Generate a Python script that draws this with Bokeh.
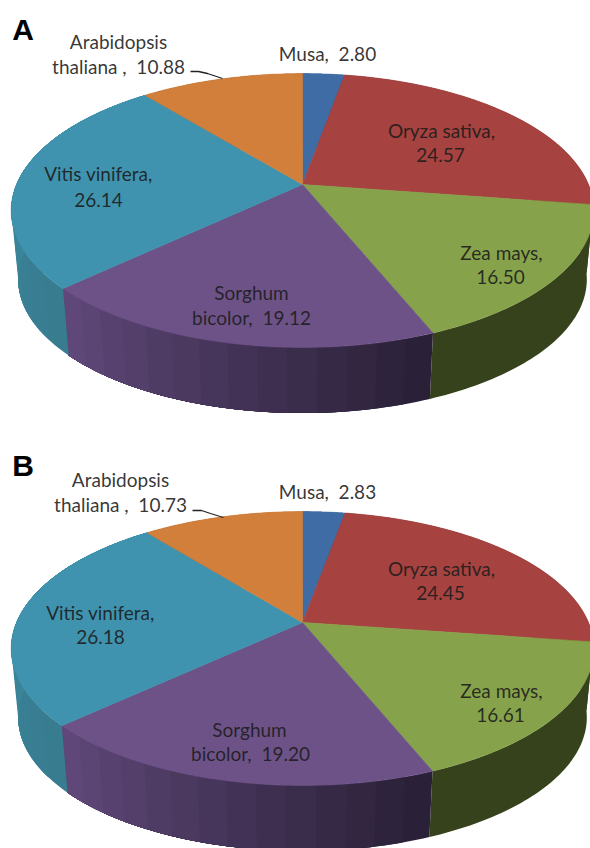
import numpy as np
from bokeh.plotting import figure
from bokeh.models import Range1d
from bokeh.core.properties import value
from bokeh.embed import file_html
from bokeh.resources import INLINE

# ---- data ----
species = ["Musa", "Oryza sativa", "Zea mays", "Sorghum bicolor", "Vitis vinifera", "Arabidopsis thaliana"]
values_a = [2.80, 24.57, 16.50, 19.12, 26.14, 10.88]
values_b = [2.83, 24.45, 16.61, 19.20, 26.18, 10.73]

# ---- styles ----
top_colors = ["#3F6CA4", "#A6423F", "#86A34B", "#6D5288", "#3F93AE", "#D27F3B"]
side_start = ["#2C4A70", "#6B2B29", "#36421B", "#2A2037", "#377C8F", "#8E5527"]
side_end = ["#2C4A70", "#6B2B29", "#36421B", "#5F4879", "#3F8FA9", "#8E5527"]

# ---- layout (reference pixels) ----
CX, R, B, K = 302.0, 286.0, 132.0, 0.19
DEPTH, SHRINK = 69.5, 0.976
APEX_A, APEX_B = 184.0, 622.0
TEXT = "#1c1c1c"
FONT = "Lato"
NB = "\u00a0"

labels_a = [
    ("Arabidopsis", 118, 41), (f"thaliana ,{NB} 10.88", 118, 66), (f"Musa,{NB} 2.80", 327, 53),
    ("Oryza sativa,", 441, 130), ("24.57", 440, 154), ("Zea mays,", 501, 252), ("16.50", 500, 276),
    ("Sorghum", 251, 292), (f"bicolor,{NB} 19.12", 251, 317), ("Vitis vinifera,", 98, 173), ("26.14", 98, 199),
]
labels_b = [
    ("Arabidopsis", 120, 479), (f"thaliana ,{NB} 10.73", 120, 504), (f"Musa,{NB} 2.83", 327, 491),
    ("Oryza sativa,", 441, 568), ("24.45", 440, 592), ("Zea mays,", 501, 690), ("16.61", 500, 714),
    ("Sorghum", 249, 729), (f"bicolor,{NB} 19.20", 250, 753), ("Vitis vinifera,", 100, 612), ("26.18", 100, 636),
]
panels = [("A", 22.5, 29), ("B", 22.5, 465)]
leaders = [([190, 198, 207, 222], [71, 71, 73, 78]), ([192, 201, 210, 223], [510, 510, 513, 517])]


def project(theta, apex, lower=False):
    u, v = np.sin(theta), np.cos(theta)
    d = 1 + K * v
    x, y = R * u / d, B * v / d
    if lower:
        return CX + SHRINK * x, apex + DEPTH - SHRINK * y
    return CX + x, apex - y


def mix(c1, c2, t):
    a = [int(c1[i:i + 2], 16) for i in (1, 3, 5)]
    b = [int(c2[i:i + 2], 16) for i in (1, 3, 5)]
    return "#%02x%02x%02x" % tuple(int(round(p + (q - p) * t)) for p, q in zip(a, b))


p = figure(width=590, height=848, x_range=Range1d(0, 590), y_range=Range1d(848, 0),
           output_backend="svg", toolbar_location=None, min_border=0,
           outline_line_color=None, background_fill_color="white", border_fill_color="white")
p.axis.visible = False
p.grid.visible = False


def draw_pie(vals, apex):
    fracs = np.array(vals, dtype=float)
    edges = np.concatenate([[0], np.cumsum(fracs)]) / fracs.sum() * 2 * np.pi
    sx, sy, sc = [], [], []
    for i in range(len(vals)):
        n = 14 if side_start[i] != side_end[i] else 1
        starts = np.linspace(edges[i], edges[i + 1], n + 1)[:-1]
        for j, s in enumerate(starts):
            # each strip runs to the slice's end and the next one paints over it: no seams
            th = np.linspace(s, edges[i + 1], 60)
            xt, yt = project(th, apex)
            xb, yb = project(th, apex, lower=True)
            sx.append(list(xt) + list(xb[::-1]))
            sy.append(list(yt) + list(yb[::-1]))
            sc.append(mix(side_start[i], side_end[i], j / max(1, n - 1)))
    p.patches(sx, sy, fill_color=sc, line_color=None)
    tx, ty, tc = [], [], []
    for i in range(len(vals)):
        th = np.linspace(edges[i], edges[i + 1], 90)
        x, y = project(th, apex)
        tx.append([CX] + list(x))
        ty.append([apex] + list(y))
        tc.append(top_colors[i])
    p.patches(tx, ty, fill_color=tc, line_color=tc, line_width=0.6)


draw_pie(values_a, APEX_A)
draw_pie(values_b, APEX_B)

for lx, ly in leaders:
    p.line(lx, ly, line_color="#222222", line_width=1.3)

for labs in (labels_a, labels_b):
    p.text([l[1] for l in labs], [l[2] for l in labs], text=[l[0] for l in labs],
           text_font=value(FONT), text_font_size="19px", text_color=TEXT,
           text_align="center", text_baseline="middle", text_alpha=0.9)

p.text([q[1] for q in panels], [q[2] for q in panels], text=[q[0] for q in panels],
       text_font=value("Liberation Sans"), text_font_size="30px", text_font_style="bold",
       text_color="#000000", text_align="center", text_baseline="middle")

open("out.html", "w").write(file_html(p, INLINE))
